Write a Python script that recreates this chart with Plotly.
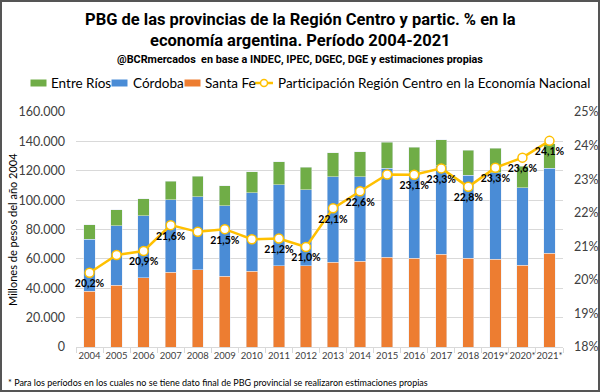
import plotly.graph_objects as go

years = ["2004", "2005", "2006", "2007", "2008", "2009", "2010", "2011", "2012",
         "2013", "2014", "2015", "2016", "2017", "2018", "2019*", "2020*", "2021*"]
santa_fe = [38.0, 42.1, 47.1, 51.0, 52.6, 48.3, 51.7, 55.3, 55.3,
            57.8, 58.3, 61.2, 60.3, 63.3, 60.3, 59.7, 55.8, 64.0]
cordoba = [35.3, 40.3, 42.1, 49.1, 49.6, 47.9, 53.4, 55.1, 51.7,
           58.0, 57.5, 60.6, 58.5, 60.0, 56.7, 59.1, 52.5, 57.8]
entre_rios = [9.8, 10.9, 11.6, 12.8, 14.1, 13.7, 14.1, 15.7, 15.4,
              16.4, 17.3, 17.7, 17.3, 17.8, 17.0, 16.4, 14.8, 16.6]
participacion = [20.21, 20.74, 20.86, 21.63, 21.43, 21.51, 21.21, 21.23, 20.98,
                 22.13, 22.64, 23.14, 23.13, 23.32, 22.77, 23.34, 23.64, 24.14]
show_label = [1, 0, 1, 1, 0, 1, 0, 1, 1, 1, 1, 0, 1, 1, 1, 1, 1, 1]

series_names = ["Entre Ríos", "Córdoba", "Santa Fe",
                "Participación Región Centro en la Economía Nacional"]
colors = {"Entre Ríos": "#70AD47", "Córdoba": "#4A8CD6", "Santa Fe": "#ED7D31",
          "line": "#FFC000"}

# values in thousand millions -> millions of pesos
sf = [v * 1000 for v in santa_fe]
cb = [v * 1000 for v in cordoba]
er = [v * 1000 for v in entre_rios]
labels = [(f"{v:.1f}".replace(".", ",") + "%") if s else "" for v, s in zip(participacion, show_label)]

W, H = 600, 392
L, R, T, B = 76, 37, 112, 45
pw, ph = W - L - R, H - T - B


def px(x):
    return (x - L) / pw


def py(y):
    return (H - B - y) / ph


FONT = "Lato, Carlito, Calibri, sans-serif"
TITLE_FONT = "Roboto, Liberation Sans, Arial, sans-serif"

fig = go.Figure()
fig.add_trace(go.Bar(x=years, y=sf, name="Santa Fe", marker_color=colors["Santa Fe"]))
fig.add_trace(go.Bar(x=years, y=cb, name="Córdoba", marker_color=colors["Córdoba"]))
fig.add_trace(go.Bar(x=years, y=er, name="Entre Ríos", marker_color=colors["Entre Ríos"]))
fig.add_trace(go.Scatter(
    x=years, y=participacion, yaxis="y2", mode="lines+markers+text",
    name=series_names[3],
    line=dict(color=colors["line"], width=2.5),
    marker=dict(size=9, color="white", line=dict(color=colors["line"], width=1.5)),
    text=labels, textposition="bottom center",
    textfont=dict(family=FONT, size=10.5, color="black", weight="bold"),
    cliponaxis=False,
))

annotations = [
    dict(text="<b>PBG de las provincias de la Región Centro y partic. % en la</b>",
         x=px(300), y=py(19), font=dict(family=TITLE_FONT, size=16.5, color="black")),
    dict(text="<b>economía argentina. Período 2004-2021</b>",
         x=px(300), y=py(41), font=dict(family=TITLE_FONT, size=16.5, color="black")),
    dict(text="<b>@BCRmercados  en base a INDEC, IPEC, DGEC, DGE y estimaciones propias</b>",
         x=px(300), y=py(59), font=dict(family=TITLE_FONT, size=10.8, color="black")),
    dict(text="Millones de pesos del año 2004",
         x=px(12), y=py(230), textangle=-90,
         font=dict(family=FONT, size=11, color="black")),
    dict(text="* Para los períodos en los cuales no se tiene dato final de PBG provincial se realizaron estimaciones propias",
         x=px(6), y=py(382), xanchor="left",
         font=dict(family=FONT, size=9, color="black")),
]
shapes = []

# manual legend (Excel-style, single row)
leg_y = 83
swatch_x = [30.5, 111.5, 184.5]
text_x = [48.5, 130.5, 202.5]
for name, sx, tx in zip(series_names[:3], swatch_x, text_x):
    shapes.append(dict(type="rect", xref="paper", yref="paper",
                       x0=px(sx), x1=px(sx + 16), y0=py(leg_y + 3.5), y1=py(leg_y - 3.5),
                       fillcolor=colors[name], line=dict(width=0)))
    annotations.append(dict(text=name, x=px(tx), y=py(leg_y), xanchor="left",
                            font=dict(family=FONT, size=13.5, color="black")))
shapes.append(dict(type="line", xref="paper", yref="paper",
                   x0=px(255), x1=px(273), y0=py(leg_y), y1=py(leg_y),
                   line=dict(color=colors["line"], width=2.5)))
shapes.append(dict(type="circle", xref="paper", yref="paper",
                   x0=px(260.5), x1=px(267.5), y0=py(leg_y + 3.5), y1=py(leg_y - 3.5),
                   fillcolor="white", line=dict(color=colors["line"], width=1.5)))
annotations.append(dict(text=series_names[3], x=px(275.5), y=py(leg_y), xanchor="left",
                        font=dict(family=FONT, size=13.5, color="black")))

for a in annotations:
    a.setdefault("xref", "paper")
    a.setdefault("yref", "paper")
    a.setdefault("showarrow", False)
    a.setdefault("xanchor", "center")
    a.setdefault("yanchor", "middle")

shapes.append(dict(type="rect", xref="paper", yref="paper",
                   x0=px(1), x1=px(599), y0=py(391), y1=py(1),
                   line=dict(color="#555555", width=2), fillcolor="rgba(0,0,0,0)", layer="above"))

fig.update_layout(
    width=W, height=H,
    margin=dict(l=L, r=R, t=T, b=B, autoexpand=False),
    paper_bgcolor="white", plot_bgcolor="white",
    barmode="stack", bargap=0.58,
    separators=",.",
    font=dict(family=FONT, size=11, color="#404040"),
    showlegend=False,
    xaxis=dict(type="category", range=[-0.5, 17.5], showgrid=False, showline=True,
               linecolor="#D9D9D9", ticks="outside", tickson="boundaries", ticklen=5,
               tickcolor="#D9D9D9", tickangle=0, automargin=False,
               tickfont=dict(size=9.5, color="#404040")),
    yaxis=dict(range=[0, 160000], dtick=20000, tickformat=",.0f", automargin=False,
               showgrid=True, gridcolor="#D9D9D9", gridwidth=1, zeroline=False,
               tickfont=dict(size=12.5, color="#404040"), ticklabelstandoff=10),
    yaxis2=dict(range=[18, 25], dtick=1, ticksuffix="%", overlaying="y", side="right",
                showgrid=False, zeroline=False, automargin=False,
                tickfont=dict(size=12.5, color="#404040"), ticklabelstandoff=10),
    annotations=annotations,
    shapes=shapes,
)

fig.write_html("out.html", config={"displayModeBar": False},
               post_script="document.body.style.margin='0';document.body.style.overflow='hidden';")
